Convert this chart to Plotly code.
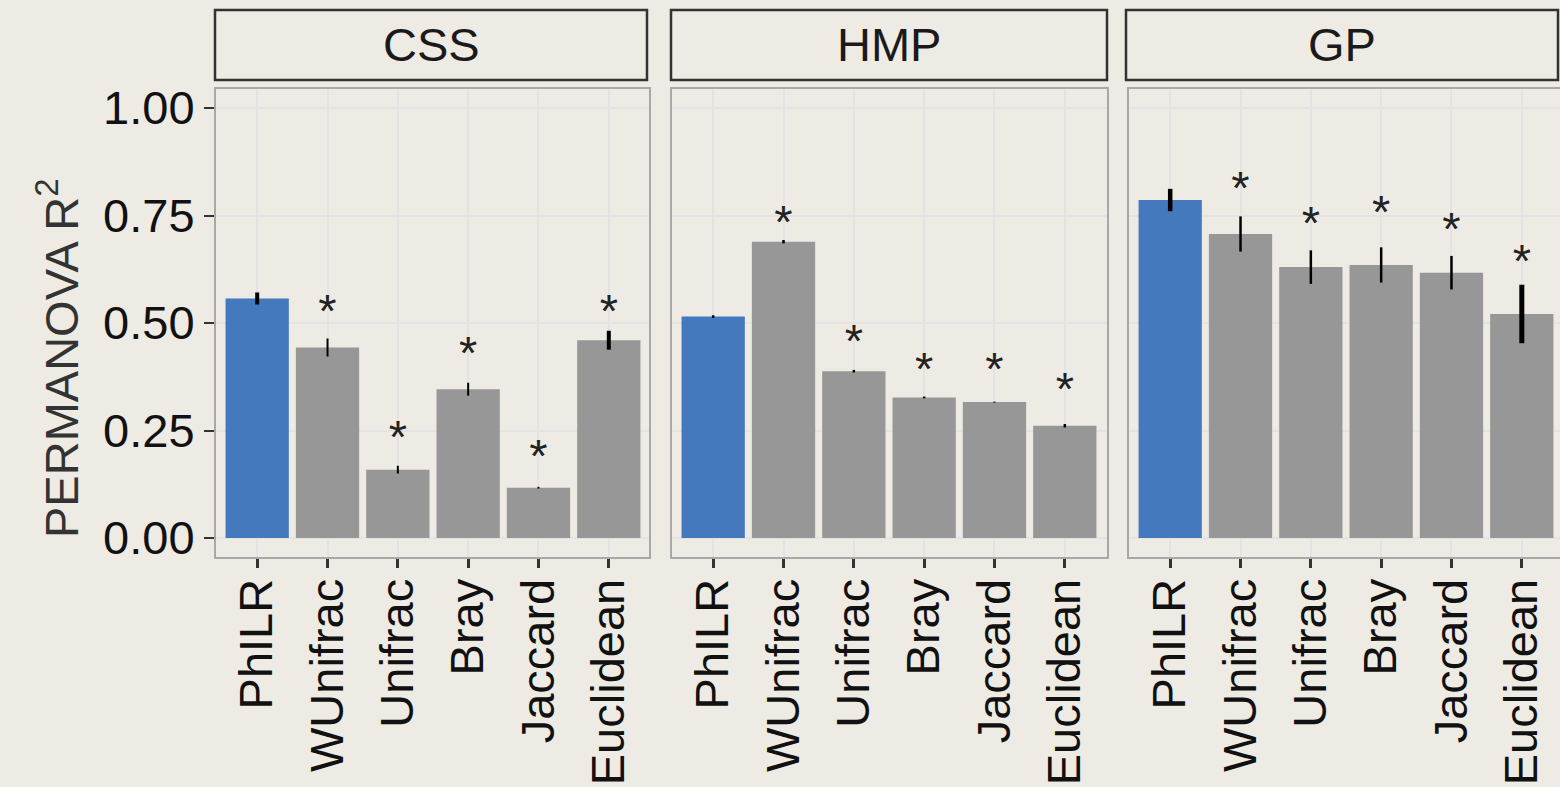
import plotly.graph_objects as go

# ---------------- data ----------------
methods = ["PhILR", "WUnifrac", "Unifrac", "Bray", "Jaccard", "Euclidean"]
facets = ["CSS", "HMP", "GP"]

css_mean = [0.557, 0.443, 0.159, 0.346, 0.117, 0.460]
css_err = [0.014, 0.021, 0.009, 0.015, 0.002, 0.022]
hmp_mean = [0.515, 0.689, 0.388, 0.327, 0.316, 0.261]
hmp_err = [0.003, 0.004, 0.003, 0.002, 0.001, 0.004]
gp_mean = [0.786, 0.707, 0.630, 0.635, 0.617, 0.521]
gp_err = [0.026, 0.041, 0.039, 0.041, 0.039, 0.068]

# significance marker heights (None = no marker)
css_star = [None, 0.542, 0.249, 0.445, 0.205, 0.542]
hmp_star = [None, 0.749, 0.472, 0.408, 0.408, 0.361]
gp_star = [None, 0.829, 0.747, 0.773, 0.732, 0.658]

y_ticks = [0.0, 0.25, 0.5, 0.75, 1.0]
y_ticklabels = ["0.00", "0.25", "0.50", "0.75", "1.00"]

# ---------------- style ----------------
BG = "#EEEBE4"
BLUE = "#4479BE"
GREY = "#979797"
GRID = "#E3E3E3"
PANEL_BORDER = "#A8A8A8"
STRIP_BORDER = "#333333"
FONT = "Liberation Sans, Arial, Helvetica, sans-serif"
FS = 47
err_thick = [[4, 2, 2, 2, 2, 4], [2.5, 2.5, 2.5, 2.5, 2.5, 2.5], [4.5, 2.5, 2.5, 2.5, 2.5, 5]]

W, H = 1560, 787
L, R, T, B = 215, 0, 88, 229
PW = W - L - R
PH = H - T - B


def px_x(p):
    return (p - L) / PW


def px_y(p):
    return (H - B - p) / PH


panel_px = [(215, 650), (671, 1108), (1128, 1565)]
strip_px = [(215, 647), (671, 1107), (1126, 1558)]
units_per_px = 6.2 / 436.0

means = [css_mean, hmp_mean, gp_mean]
errs = [css_err, hmp_err, gp_err]
stars = [css_star, hmp_star, gp_star]

fig = go.Figure()
shapes = []
annotations = []

for i, fac in enumerate(facets):
    ax = "" if i == 0 else str(i + 1)
    xr, yr = "x" + ax, "y" + ax
    colors = [BLUE] + [GREY] * (len(methods) - 1)
    fig.add_trace(go.Bar(x=methods, y=means[i], marker=dict(color=colors, line=dict(width=0)),
                         width=0.9, xaxis=xr, yaxis=yr, showlegend=False, hoverinfo="x+y"))
    for j, m in enumerate(methods):
        fig.add_trace(go.Scatter(x=[m, m], y=[means[i][j] - errs[i][j], means[i][j] + errs[i][j]],
                                 mode="lines", line=dict(color="#000000", width=err_thick[i][j]),
                                 xaxis=xr, yaxis=yr, showlegend=False, hoverinfo="skip"))
    sx = [m for m, s in zip(methods, stars[i]) if s is not None]
    sy = [s - 0.024 for s in stars[i] if s is not None]
    fig.add_trace(go.Scatter(x=sx, y=sy, mode="text", text=["*"] * len(sx),
                             textposition="middle center",
                             textfont=dict(size=FS, color="#222222", family=FONT),
                             xaxis=xr, yaxis=yr, showlegend=False, hoverinfo="skip"))

    x0p, x1p = panel_px[i]
    dom_end = min(1.0, px_x(x1p))
    vis_px = min(x1p, W) - x0p
    xrange = [-0.6, -0.6 + vis_px * units_per_px]
    fig.update_layout({
        "xaxis" + ax: dict(domain=[px_x(x0p), dom_end], anchor=yr, type="category",
                           categoryorder="array", categoryarray=methods, range=xrange,
                           showgrid=True, gridcolor=GRID, gridwidth=1.5, zeroline=False,
                           showline=False, ticks="outside", ticklen=9, tickwidth=2.5,
                           tickcolor="#333333", tickangle=-90, ticklabelstandoff=-8,
                           tickfont=dict(size=FS, color="#111111", family=FONT)),
        "yaxis" + ax: dict(domain=[0, 1], anchor=xr, range=[-0.0465, 1.0465],
                           tickvals=y_ticks, ticktext=y_ticklabels,
                           showgrid=True, gridcolor=GRID, gridwidth=1.5, zeroline=False,
                           showline=False,
                           ticks="outside" if i == 0 else "", ticklen=10, tickwidth=2,
                           tickcolor="#333333", showticklabels=(i == 0),
                           tickfont=dict(size=FS, color="#111111", family=FONT)),
    })
    # panel border
    shapes.append(dict(type="rect", xref="paper", yref="paper",
                       x0=px_x(x0p), x1=px_x(x1p), y0=0, y1=1,
                       line=dict(color=PANEL_BORDER, width=2), fillcolor="rgba(0,0,0,0)",
                       layer="above"))
    # strip
    s0, s1 = strip_px[i]
    shapes.append(dict(type="rect", xref="paper", yref="paper",
                       x0=px_x(s0), x1=px_x(s1), y0=px_y(80), y1=px_y(10),
                       line=dict(color=STRIP_BORDER, width=2.5), fillcolor=BG))
    annotations.append(dict(text=fac, xref="paper", yref="paper",
                            x=(px_x(s0) + px_x(s1)) / 2, y=px_y(45),
                            xanchor="center", yanchor="middle", showarrow=False,
                            font=dict(size=FS, color="#1A1A1A", family=FONT)))

annotations.append(dict(text="PERMANOVA R<sup>2</sup>", xref="paper", yref="paper",
                        x=px_x(58), y=px_y(358), xanchor="center", yanchor="middle",
                        textangle=-90, showarrow=False,
                        font=dict(size=FS, color="#333333", family=FONT)))

fig.update_layout(width=W, height=H, margin=dict(l=L, r=R, t=T, b=B, pad=0),
                  paper_bgcolor=BG, plot_bgcolor=BG, bargap=0.1,
                  shapes=shapes, annotations=annotations, showlegend=False,
                  font=dict(family=FONT))

fig.write_html("out.html", config={"displayModeBar": False},
               post_script="document.body.style.margin='0';document.body.style.overflow='hidden';"
                           "document.body.style.background='" + BG + "';")
